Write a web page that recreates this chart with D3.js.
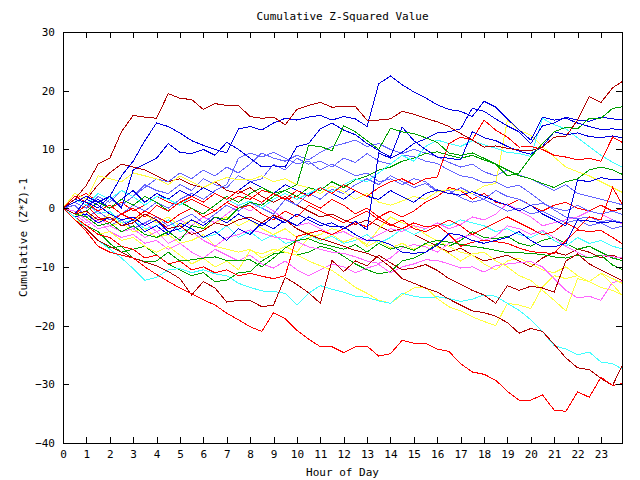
<!DOCTYPE html>
<html><head><meta charset="utf-8">
<script src="https://cdn.jsdelivr.net/npm/d3@7/dist/d3.min.js"></script>
<style>
body{margin:0;background:#fff}
text{font-family:"DejaVu Sans Mono",monospace;font-size:11px;fill:#000}
</style>
</head><body>
<svg id="c" width="640" height="480"></svg>
<script>
// ---- data (values read every half hour, 0 .. 24 h) ----
const stepHours = 0.5;
const xTickLabels = ["0","1","2","3","4","5","6","7","8","9","10","11","12","13","14","15","16","17","18","19","20","21","22","23"];
const yTickValues = [-40,-30,-20,-10,0,10,20,30];

const DR_d = [0,2.5,1.5,4,6,7.5,7,6.5,5.5,4.5,5,4,3.5,4.5,3,2.5,3.5,2,1,2,0.5,-0.5,-1.5,-1,-2,-2.8,-2,-3,-4,-3.5,-4.5,-5.5,-6.5,-7.5,-6.8,-8,-9,-8.5,-8,-9,-10,-8.5,-7.5,-8,-7,-7.5,-8.5,-8,-8.8];
const G4 = [0,-1.5,-3,-4,-6,-7.5,-7,-6.5,-8,-9.5,-10.5,-11.5,-11,-12.5,-12.3,-11,-10.8,-9,-7.8,-7.5,-8,-7.5,-6.5,-7,-8.2,-9.5,-10.5,-11.2,-10.8,-9,-8.5,-7.5,-6,-6.5,-5.5,-4,-5,-5.2,-4.8,-6,-6.5,-5.5,-5,-6,-7,-6.5,-7.5,-8.5,-9];
const C3 = [0,2,1,-1,-0.5,-2.5,-2,-3.5,-3,-2,-4,-3.5,-5,-4.5,-3,-5,-4,-5.5,-4.5,-6,-5.5,-4.5,-5.5,-4.8,-6,-5.5,-4.5,-6,-5,-3.5,-4.5,-3.5,-2.5,-3,-2,-2.5,-3,-4,-3.5,-4.5,-5,-4,-5.5,-6.5,-5,-6,-5.5,-6.5,-7];
const Y4 = [0,-0.5,-2,-1.5,-3,-2.5,-4,-3.5,-5,-4.5,-6,-5.5,-4.5,-6.5,-7,-7.5,-7,-8.5,-7.5,-6.5,-7.5,-5,-4.5,-3.5,-4,-5,-6.2,-3.5,-1.5,-2.5,-3,-4.5,-5.5,-6.5,-7.5,-8,-9.5,-10.5,-9,-8.5,-9.5,-10.5,-11,-10,-11.5,-12.5,-13.5,-14,-15];
const M3 = [0,-0.5,-2,-3.5,-3,-2,-3.5,-2.5,-4,-3,-2,-3,-1.5,-2.5,-1,0.5,-0.5,0.8,-0.5,-2,-3,-2.5,-3.5,-4.5,-4,-5,-5.5,-4.5,-3.5,-4,-3,-3.5,-2.5,-3.5,-2.8,-1.5,-2,-1,0.8,-0.5,-1.5,-3,-2.5,-2,-1.5,-0.5,-1,-2,-2.8];
const R5 = [0,1.5,2.5,1,0,1,-0.5,0.5,2,1,0.5,1.5,0.5,-0.5,1,2,1.5,3,2.5,1.5,2,1,0,1.5,0.5,-1,0,-1.5,-0.5,-1.5,-0.5,1,2,3.5,3,1.5,2.5,1,0.5,1.5,0.5,-0.5,0.5,1,0,-0.5,0.5,-0.5,0];
const L4 = [0,-1,-2.5,-1.5,-3,-2,-3.5,-2.5,-1.5,-3,-2,-1,-2.5,-1,0.5,-0.5,1,0,-1,1.5,0.5,2.5,1.5,3.2,2.5,4,5,4,5.5,4.5,3.5,4.2,2.8,3,1.8,1,1.5,0.5,-0.5,0,-1,-0.5,-1.5,-2.5,-2,-3,-2.5,-3.5,-3];
const L3 = [0,0.5,-1.5,-0.5,-2,-1,0.5,-0.5,1,0,1.5,2.5,1.5,3,4,8.5,9.4,8.7,9.5,8.5,7.5,8,6.5,7.5,6.5,5.5,6,4.5,5,4,5,4.5,3,2.5,3.5,2.5,1.5,3,2,1.5,0.5,0.8,0,-0.5,0.5,-0.5,-1,-0.5,-1.2];
const L2 = [0,-1,0.5,-0.5,1.5,0.5,2,3.5,5,4.5,6,5,6.5,5.5,7,6,7.5,9.4,8.5,8,9,8.2,9.5,10.5,11,11.6,10.5,11,10,9.3,10,9.4,8.8,7.8,7,7.5,6.2,5.5,6.5,5.6,5,4,3,4,2.5,2,1.5,1,0.5];
const L1 = [0,1,0,2,1,3,2,4,3,2.5,4,3,5,4,3.5,5.5,4.5,5,7.5,6.5,8.5,7.5,8,7,8.5,7.8,9.3,8,7.5,9,8.8,8,7.6,6.5,5.5,5.2,4.3,4.5,3.5,3.9,2.5,1,-0.3,-1.5,-1.8,-1.5,-2.3,-2,-2.6];
const M2 = [0,-1,-2.5,-1.5,-3,-4,-3.5,-5,-4,-6,-5,-4,-5.5,-6.5,-5,-4.5,-3.7,-4.2,-4.9,-5.2,-5.7,-6.6,-7,-7.5,-7.7,-8.3,-9,-9.4,-8.5,-6.8,-6.2,-6.6,-7.5,-6,-5,-4.5,-5.5,-4.8,-3,-3.5,-4.5,-3.8,-5,-6.5,-7.5,-8.5,-8,-8.3,-8.5];
const M1 = [0,-1.5,-3,-2,-4,-5,-4.5,-6,-5.5,-7,-6,-7.5,-8.5,-7,-8,-9,-8,-9.5,-10.2,-9,-10.5,-11.5,-10.5,-9.5,-10,-11,-10.2,-9.6,-11,-10,-9.5,-8.8,-8.9,-9.5,-10.2,-10,-10.9,-9.8,-9.5,-9.3,-9.1,-10,-12,-14,-15.3,-15,-15.7,-12.6,-12.5];
const Y1 = [0,-1.5,-0.5,-2.5,-1,-3,-2,-1,-2.5,-1.5,-3,-2,-3.5,-2.5,-1.5,-3,-2,-3.5,-4.5,-3.5,-5,-4,-5.5,-4.5,-5.8,-5,-6.5,-5.5,-6.8,-6,-7,-6.2,-6.6,-7.7,-9,-7.8,-7.5,-9,-10,-11.5,-12.3,-14,-15.7,-17.5,-12,-12.5,-11.1,-13,-15.3];
const Y2 = [0,-2,-3,-4.5,-4,-5.5,-5,-6.5,-7.5,-6.5,-8,-9.5,-8.5,-10,-9,-10.5,-7.2,-7.8,-7,-7.5,-8,-9,-9.8,-10.6,-12,-13.5,-14.5,-15.7,-16.2,-14.8,-13.6,-13.5,-15.4,-16.8,-17.5,-18.5,-19.3,-20,-16.2,-16.5,-17.1,-13.4,-11.5,-12,-11.5,-12.5,-11.1,-12,-13];
const Y3 = [0,2.5,1.5,5.5,5,4.5,6,5.5,5,4,5.5,4.5,3.5,4.5,5.2,4.8,4.8,5.5,4.5,5,4,3.5,2.5,3.8,2.8,1.5,2.5,1,0.5,1.2,2,1.5,2.8,3.2,3,2.5,3.8,4.2,15,13.3,12.4,10.5,8.7,7,6.2,5.5,4.5,3.5,2.5];
const R4 = [0,-1,0.5,-1.5,-2.5,-1,-2,-0.5,-1.5,-2.5,-1,0,-1.5,-0.5,1,0,0.5,-1,-2,-0.5,-1.5,0.5,-0.5,-1.5,-2.5,-1.5,-0.5,-2,-3,-2,-3.5,-4,-3,-2,-3,-4.5,-3.5,-2.5,-1.5,-2.5,-3.5,-4.5,-4,-2.5,-3.5,-1.5,-2,3.5,0];
const R2 = [0,-1.5,-3,-4.5,-5,-6.5,-7,-8.5,-8,-9.5,-9,-10.5,-10,-11,-10.5,-11.5,-11.1,-11.6,-12,-11.5,-4.8,-4.3,-3.8,-4.5,-3.5,-2.5,-3.2,-1.5,-2.8,-3.5,-2.5,-3.2,-2.9,-4.5,-6.5,-5.8,-5.5,-5.7,-6,-6.8,-7.4,-7.6,-7.7,-5.5,-3.7,-4,-3.8,-5,-6.3];
const B6 = [0,-1.5,-1,-2.5,-1.5,-3,-2,-4,-3,-4.5,-2.5,-3.5,-5,-4,-5.5,-3.5,-4.5,-2.5,-3.5,-2,-3,-1.5,-2.5,-3.2,-3.2,-4.5,-5.5,-5.5,-6.2,-7.5,-7.7,-7.5,-6.3,-4.3,-4.6,-5.5,-6,-5.5,-5,-4,-5.5,-6.6,-6.6,-6,-2,-2.2,-2.5,-2.3,-2.5];
const B5 = [0,1.5,0.5,1.5,0,1.5,3,1,2.5,1.5,3,2,3.5,2.5,1.5,3,4.5,3.5,2.5,4,3,2.2,3.5,2.5,1.5,3,2,1.5,3,2,1,2.5,3.1,2.5,2.2,2.8,2,1.2,0.5,-0.5,0.5,-1,-2,-3,4.8,4.5,5.2,4.8,4.8];
const G3 = [0,-2,-3.5,-5.5,-6.8,-6.5,-8.5,-9.1,-9,-7.5,-9,-8.8,-8.5,-8.3,-8.9,-8.9,-8.8,-10,-8.5,-6.8,-5.5,-5.2,-6,-6.5,-7,-6.2,-7.5,-6,-7,-6.5,-7.2,-6,-5.5,-5.8,-6.2,-6.5,-6.8,-7.2,-7.6,-7.6,-7.7,-7.9,-8.3,-8.5,-8,-8.5,-8,-9.7,-10.6];
const G2 = [0,-1,-0.5,1,0,1.5,0.5,2,1,-0.5,1,0,-1,0.5,2,1,2.5,3.5,2.5,3,2,3.5,3,4.5,3.5,4.8,5.5,6.5,7,8,8.5,9.3,9.6,9,8.5,9,8.2,7.5,6.5,5.5,5,4.2,3.5,4.5,5,6.5,7,6.5,5.6];
const C2 = [0,1.5,0.5,2.5,1.5,3,2,0.5,2,1.5,0.5,2,1,2.5,1.5,0.5,1.2,0,1.5,2.5,1.5,2.5,3.5,2.8,4,5,4.5,6,7.5,9,8,10.5,11.6,11,10.5,11.5,10.8,10.2,9.5,9.3,8.8,15.3,14.2,13.5,12,10.5,9,7.8,6.8];
const R3 = [0,2,1,-0.5,0.5,-1,0,-1.5,0.5,-0.5,1,2,1,2.5,1.5,3,2,1,2.5,1.5,3,2,3.5,2.5,4,3,2,3.5,4.5,5,4,5,5.3,11,12.1,11.6,15,13.3,12.1,10.4,10.5,10,9,8.7,8.2,8.5,8,12.1,11];
const B3 = [0,-1,1.5,0.5,-1,-2,-1.5,-3,-2,-4,-3.5,-2,-3,-1.5,-2.5,-1,-2,-3,-1.5,-2.5,-1,-2,-3,-2.5,-3.5,-2.2,-3.7,9.4,8.5,9.5,11,11.8,12.8,13,13.5,17,16.5,15.2,14,13,11,14,14.5,15.5,15,14.8,15.5,15.2,15];
const B2 = [0,1,2,1,2,0,6.5,7.5,8.5,11,9.5,9.3,10,9,11.2,10,8.5,7,7.2,7,10.5,11,13.5,14.5,13.3,12.5,11,9.8,8.7,13.8,11.5,10,8.7,8.5,8.2,13,12,11.5,10.5,9.7,9.2,10.5,13,12.5,12.8,12.2,12,12.3,11.9];
const G1 = [0,-1,-1.5,-3,-2.5,-4,-3,-4.5,-5,-4,-5.5,-3,-3.5,-1.5,-2,0,1,0.5,2,3,4,10.7,10.5,9.8,14,13,11.5,10,13.6,13,12.7,12,11.2,9.4,9,9.4,8.5,7.5,5.5,6,8.7,11,13,13.8,13.5,15.3,15.3,17,17.3];
const C1 = [0,-1.5,-3.5,-5.5,-7,-8.5,-10.3,-12.3,-11.8,-10.5,-10.3,-11,-10.5,-11.2,-11.5,-12.8,-13.5,-14.1,-14.2,-14.5,-16.5,-14.5,-13.2,-13.8,-14.3,-15,-15.2,-15.8,-16.2,-14.5,-15,-15.3,-15.1,-15.4,-15.9,-15.5,-14.8,-15,-16.2,-17.4,-19,-21,-23.4,-24,-25,-24.5,-26.2,-26.5,-27.6];
const DR_b = [0,-2,-3.5,-5.5,-6.5,-7.5,-8.5,-9.2,-9.8,-10.8,-12,-14.8,-12.5,-13.6,-16,-15.7,-15.7,-16.8,-16.5,-11.8,-13,-14.4,-16.2,-8.9,-10.8,-9,-9.8,-8,-9.3,-10.5,-10.2,-9.6,-10.6,-12,-13,-14,-14.8,-16.2,-13.2,-14,-13.3,-13.6,-14.3,-9,-7.8,-9.5,-10.5,-11.5,-12.5];
const DR_a = [0,-1,-0.5,-2,-1.5,-3,-2.5,-1,-2,-3.5,-3,-4.5,-3.8,-2.5,-3,-2,-1.5,-2.5,-1.2,-2,-3.5,-4.5,-5.2,-5.8,-6.5,-7.2,-7.7,-8.5,-10,-12,-12.8,-13.6,-14.3,-15.5,-16.5,-17.5,-17.8,-18.4,-19.5,-21.3,-20.5,-21,-23.2,-25.5,-27.2,-27.5,-29,-30.2,-26];
const R1 = [0,-2,-4,-6.5,-7.5,-8,-8.5,-10,-11.3,-12.5,-13.6,-14.6,-15.6,-16.5,-17.9,-19,-20.2,-21,-17.8,-18.8,-20.8,-22.3,-23.6,-23.6,-24.6,-23.6,-23.5,-25.2,-24.8,-22.5,-23,-23,-24,-24.4,-26.5,-27.9,-28.3,-29.3,-31.2,-32.7,-32.7,-31.8,-34.4,-34.6,-31.3,-32.2,-28.8,-30.2,-29.8];
const B1 = [0,1.5,1,0,2,5.5,8,11.5,14.5,13.9,12.8,11.5,10.7,10,9.4,13.5,13.9,13.3,14.5,15.3,15,15.5,15.8,15,15.6,15.2,13.9,21.2,22.5,21,19.8,18.8,17.6,16.8,16.5,15.6,18.2,17.2,15.2,13.3,11.6,15.5,15,15.3,14.5,13.9,13.4,13.5,13.3];
const DR_top = [0,1.5,3.9,7.5,8.5,13,15.8,15.5,15.3,19.5,18.7,18.5,16.8,17.8,17.5,17.5,15.6,15.3,15.5,14.2,16.8,17.5,18,17.2,17.3,17.3,15,15,15.2,16.5,16,15.3,14.7,13.9,12.7,11.6,10.4,10.6,10.2,9.9,9.8,10.4,12.1,12.2,15,19,18,20.5,21.8];

const seriesList = [
  {c:"darkred",v:DR_d},{c:"green",v:G4},{c:"cyan",v:C3},{c:"yellow",v:Y4},
  {c:"magenta",v:M3},{c:"red",v:R5},{c:"lightblue",v:L4},{c:"lightblue",v:L3},
  {c:"lightblue",v:L2},{c:"lightblue",v:L1},{c:"magenta",v:M2},{c:"magenta",v:M1},
  {c:"yellow",v:Y1},{c:"yellow",v:Y2},{c:"yellow",v:Y3},{c:"red",v:R4},
  {c:"red",v:R2},{c:"blue",v:B6},{c:"blue",v:B5},{c:"green",v:G3},
  {c:"green",v:G2},{c:"cyan",v:C2},{c:"red",v:R3},{c:"blue",v:B3},
  {c:"blue",v:B2},{c:"green",v:G1},{c:"cyan",v:C1},{c:"darkred",v:DR_b},
  {c:"darkred",v:DR_a},{c:"red",v:R1},{c:"blue",v:B1},{c:"darkred",v:DR_top}
];
const palette = {red:"#ff0000",darkred:"#b00000",green:"#00a000",blue:"#0000e0",
  lightblue:"#6464ff",cyan:"#40ffff",yellow:"#ffff40",magenta:"#ff66ff"};

// ---- chart ----
const svg = d3.select("#c");
const PL = 63, PR = 622, PT = 32, PB = 443;
const x = d3.scaleLinear().domain([0, 23.9]).range([PL, PR]);
const y = d3.scaleLinear().domain([-40, 30]).range([PB, PT]);

svg.append("defs").append("clipPath").attr("id","clip")
  .append("rect").attr("x",PL).attr("y",PT).attr("width",PR-PL).attr("height",PB-PT);

const lineGen = d3.line().x((d,i)=>x(i*stepHours)).y(d=>y(d));
const gLines = svg.append("g").attr("clip-path","url(#clip)");
seriesList.forEach(s=>{
  gLines.append("path").attr("d", lineGen(s.v)).attr("fill","none")
   .attr("stroke", palette[s.c]).attr("stroke-width",1)
   .attr("shape-rendering","crispEdges");
});

const xt = xTickLabels.map(Number);
const mkAxis = (gen, tx, ty)=> svg.append("g").attr("transform",`translate(${tx},${ty})`).call(gen);
const axB = mkAxis(d3.axisBottom(x).tickValues(xt).tickFormat((d,i)=>xTickLabels[i]).tickSizeInner(-6).tickSizeOuter(0).tickPadding(7), 0, PB);
const axT = mkAxis(d3.axisTop(x).tickValues(xt).tickFormat("").tickSizeInner(-6).tickSizeOuter(0), 0, PT);
const axL = mkAxis(d3.axisLeft(y).tickValues(yTickValues).tickFormat(d3.format("d")).tickSizeInner(-6).tickSizeOuter(0).tickPadding(8), PL, 0);
const axR = mkAxis(d3.axisRight(y).tickValues(yTickValues).tickFormat("").tickSizeInner(-6).tickSizeOuter(0), PR, 0);
[axB,axT,axL,axR].forEach(a=>{
  a.select(".domain").remove();
  a.selectAll("line").attr("stroke","#000").attr("shape-rendering","crispEdges");
  a.selectAll("text").attr("font-family","DejaVu Sans Mono, monospace").attr("font-size",11).attr("fill","#000");
});
svg.append("rect").attr("x",PL).attr("y",PT).attr("width",PR-PL).attr("height",PB-PT)
  .attr("fill","none").attr("stroke","#000").attr("shape-rendering","crispEdges");

svg.append("text").attr("x",(PL+PR)/2).attr("y",20).attr("text-anchor","middle").text("Cumulative Z-Squared Value");
svg.append("text").attr("x",(PL+PR)/2).attr("y",476).attr("text-anchor","middle").text("Hour of Day");
svg.append("text").attr("transform",`translate(23,${(PT+PB)/2}) rotate(-90)`).attr("dy","0.35em")
  .attr("text-anchor","middle").text("Cumulative (Z*Z)-1");
</script>
</body></html>
